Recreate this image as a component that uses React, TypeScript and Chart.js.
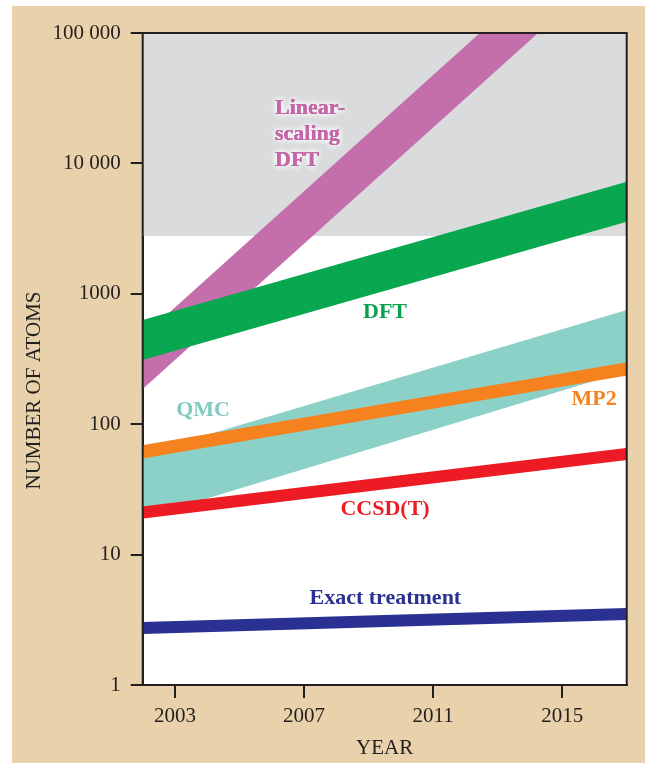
import React, { useEffect, useRef } from 'react';
import { Chart, registerables } from 'chart.js';

Chart.register(...registerables);

// ---- data ----
const YEARS = [2002, 2017];
const SHADED_FLOOR = [2775, 2775];
const LINEAR_DFT_HIGH = [470, 1033000];
const LINEAR_DFT_LOW = [186, 409000];
const DFT_HIGH = [630, 7240];
const DFT_LOW = [311, 3570];
const QMC_HIGH = [59, 751];
const QMC_LOW = [19.1, 256];
const MP2 = [61.5, 265];
const CCSDT = [21.0, 59];
const EXACT = [2.74, 3.5];

const X_TICKS = [2003, 2007, 2011, 2015];
const Y_TICKS = [1, 10, 100, 1000, 10000, 100000];
const Y_TICK_LABELS = ['1', '10', '100', '1000', '10 000', '100 000'];

// label anchors in data coordinates
const LABEL_TEXTS = [['Linear-', 'scaling', 'DFT'], ['DFT'], ['QMC'], ['MP2'], ['CCSD(T)'], ['Exact treatment']];
const LABEL_YEARS = [2006.1, 2009.51, 2003.87, 2015.99, 2009.51, 2009.52];
const LABEL_VALUES = [26600, 724, 128, 156, 22.4, 4.65];

const TAN = '#e8d1ab';
const GRAY = '#d9dbdd';
const PURPLE = '#c46fac';
const GREEN = '#08a750';
const TEAL = '#8cd1c8';
const ORANGE = '#f5821f';
const RED = '#ed1c24';
const NAVY = '#2b3192';
const INK = '#231f20';
const FONT = '"Liberation Serif", "Times New Roman", serif';

const LABEL_STYLE = [
  { color: '#c466a8', align: 'left', glow: true },
  { color: '#0a9f4d', align: 'center', glow: false },
  { color: '#7fcbc1', align: 'center', glow: false },
  { color: '#f5821f', align: 'center', glow: false },
  { color: '#ed1c24', align: 'center', glow: false },
  { color: '#2b3192', align: 'center', glow: false },
];

const pts = (vals: number[]) => YEARS.map((x, i) => ({ x, y: vals[i] }));
const NONE = 'rgba(0,0,0,0)';

const panelPlugin = {
  id: 'panel',
  beforeDraw(chart: any) {
    const { ctx } = chart;
    ctx.save();
    ctx.fillStyle = '#ffffff';
    ctx.fillRect(0, 0, chart.width, chart.height);
    ctx.fillStyle = TAN;
    ctx.fillRect(12, 6, 633, chart.height - 6);
    const a = chart.chartArea;
    ctx.fillStyle = '#ffffff';
    ctx.fillRect(a.left, a.top, a.right - a.left, a.bottom - a.top);
    ctx.restore();
  },
  afterDatasetsDraw(chart: any) {
    const { ctx } = chart;
    const a = chart.chartArea;
    const xs = chart.scales.x;
    const ys = chart.scales.y;
    ctx.save();
    // series labels
    LABEL_TEXTS.forEach((lines, i) => {
      const st = LABEL_STYLE[i];
      const px = xs.getPixelForValue(LABEL_YEARS[i]);
      const py = ys.getPixelForValue(LABEL_VALUES[i]);
      ctx.font = 'bold 22px ' + FONT;
      ctx.textAlign = st.align;
      ctx.textBaseline = 'middle';
      lines.forEach((t, j) => {
        const yy = py + j * 26;
        if (st.glow) {
          ctx.save();
          ctx.shadowColor = 'rgba(255,255,255,0.95)';
          ctx.shadowBlur = 6;
          ctx.fillStyle = st.color;
          for (let k = 0; k < 3; k++) ctx.fillText(t, px, yy);
          ctx.restore();
        }
        ctx.fillStyle = st.color;
        ctx.fillText(t, px, yy);
      });
    });
    // frame
    ctx.strokeStyle = INK;
    ctx.lineWidth = 2;
    ctx.strokeRect(a.left, a.top, a.right - a.left, a.bottom - a.top);
    ctx.restore();
  },
};

export default function App() {
  const ref = useRef<HTMLCanvasElement | null>(null);
  useEffect(() => {
    if (!ref.current) return;
    const band = (hi: number[], lo: number[], color: string, order: number, name: string) => [
      { label: name + ' high', data: pts(hi), borderColor: NONE, borderWidth: 0, pointRadius: 0, fill: false, order, clip: 0 },
      { label: name + ' low', data: pts(lo), borderColor: NONE, borderWidth: 0, pointRadius: 0, fill: '-1', backgroundColor: color, order, clip: 0 },
    ];
    const thick = (vals: number[], color: string, width: number, order: number, name: string) => ({
      label: name, data: pts(vals), borderColor: color, borderWidth: width, pointRadius: 0, fill: false, order, clip: 0, borderCapStyle: 'butt',
    });
    const chart = new Chart(ref.current, {
      type: 'line',
      data: {
        datasets: [
          { label: 'shade', data: pts(SHADED_FLOOR), borderColor: NONE, borderWidth: 0, pointRadius: 0, fill: 'end', backgroundColor: GRAY, order: 10, clip: 0 },
          ...band(LINEAR_DFT_HIGH, LINEAR_DFT_LOW, PURPLE, 9, 'Linear-scaling DFT'),
          ...band(DFT_HIGH, DFT_LOW, GREEN, 8, 'DFT'),
          ...band(QMC_HIGH, QMC_LOW, TEAL, 7, 'QMC'),
          thick(MP2, ORANGE, 13, 6, 'MP2'),
          thick(CCSDT, RED, 12, 5, 'CCSD(T)'),
          thick(EXACT, NAVY, 12, 4, 'Exact treatment'),
        ] as any,
      },
      options: {
        animation: false,
        responsive: false,
        events: [],
        layout: { padding: { left: 12, right: 21.3, top: 33, bottom: 0 } },
        plugins: { legend: { display: false }, tooltip: { enabled: false }, title: { display: false } },
        elements: { line: { tension: 0 } },
        scales: {
          x: {
            type: 'linear',
            min: 2002,
            max: 2017,
            afterBuildTicks: (s: any) => { s.ticks = X_TICKS.map((v) => ({ value: v })); },
            afterFit: (s: any) => { s.height = 78; },
            ticks: { color: INK, font: { family: FONT, size: 21 }, padding: 6, maxRotation: 0, autoSkip: false, callback: (v: any) => String(v) },
            grid: { display: true, drawOnChartArea: false, drawTicks: true, tickLength: 13, color: INK, lineWidth: 2 },
            border: { display: true, color: INK, width: 2 },
            title: { display: true, text: 'YEAR', color: INK, font: { family: FONT, size: 21 }, padding: { top: 0, bottom: 2 } },
          },
          y: {
            type: 'logarithmic',
            min: 1,
            max: 100000,
            afterBuildTicks: (s: any) => { s.ticks = Y_TICKS.map((v) => ({ value: v })); },
            afterFit: (s: any) => { s.width = 130.7; },
            ticks: {
              color: INK, font: { family: FONT, size: 21 }, padding: 10, autoSkip: false,
              callback: (v: any) => { const i = Y_TICKS.indexOf(Number(v)); return i >= 0 ? Y_TICK_LABELS[i] : ''; },
            },
            grid: { display: true, drawOnChartArea: false, drawTicks: true, tickLength: 12, color: INK, lineWidth: 2 },
            border: { display: true, color: INK, width: 2 },
            title: {
              display: true,
              text: 'NUMBER OF ATOMS' + '            ',
              color: INK, font: { family: FONT, size: 21 }, padding: { top: 10, bottom: 0 },
            },
          },
        },
      } as any,
      plugins: [panelPlugin],
    });
    return () => chart.destroy();
  }, []);
  return (
    <div style={{ position: 'fixed', left: 0, top: 0, width: 648, height: 763, background: '#fff' }}>
      <canvas ref={ref} width={648} height={763} style={{ display: 'block', width: 648, height: 763 }} />
    </div>
  );
}
